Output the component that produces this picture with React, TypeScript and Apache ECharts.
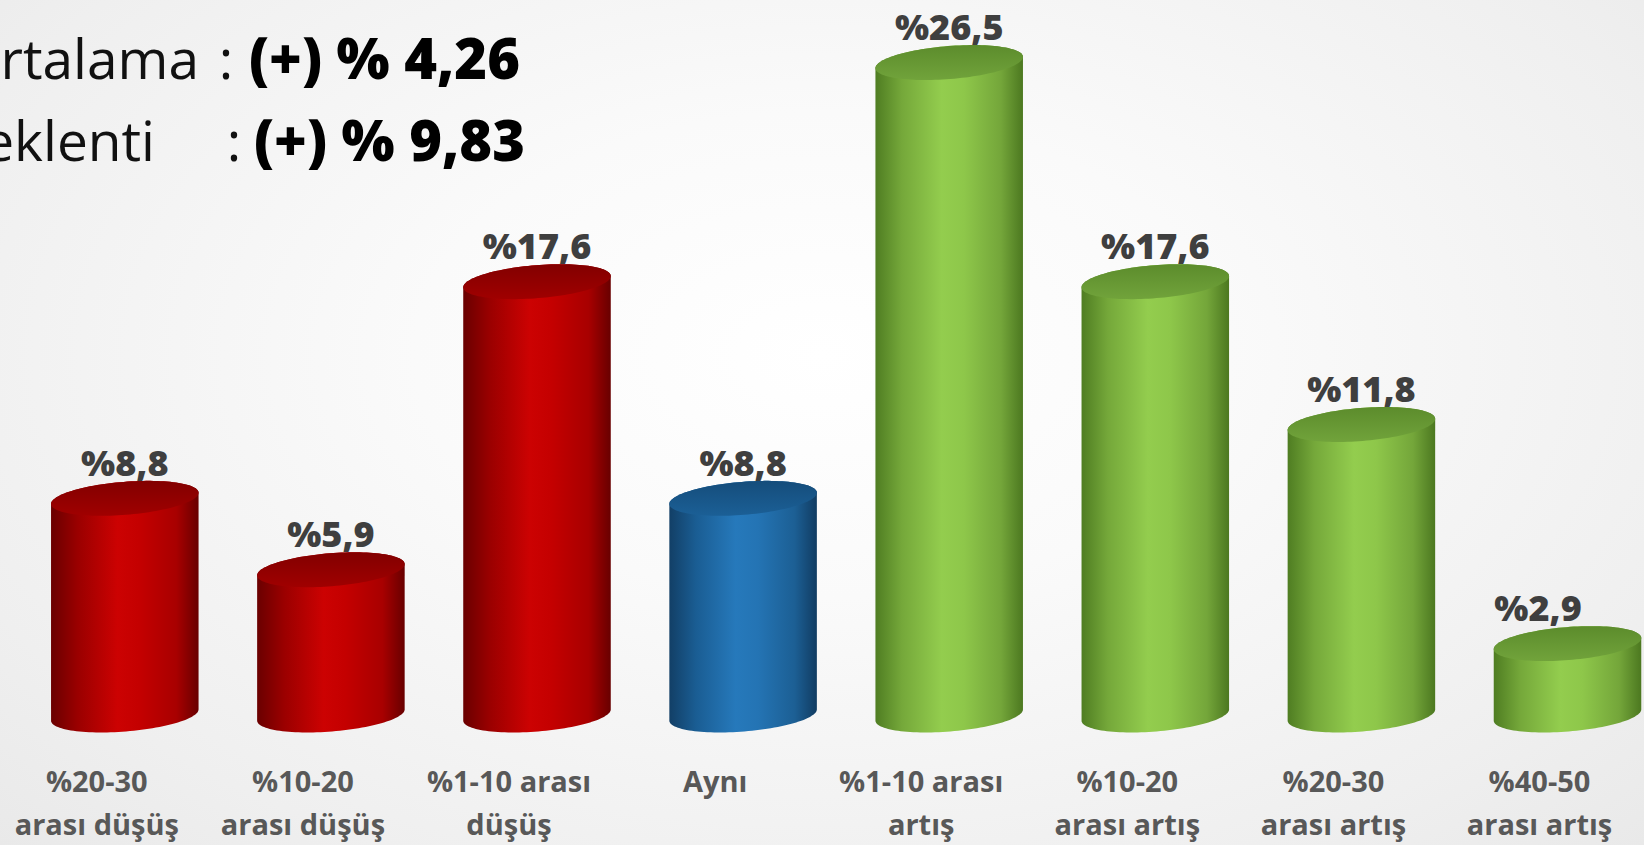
import React, { useEffect, useRef } from 'react';
import * as echarts from 'echarts';

const categories = [
  '%20-30\narası düşüş',
  '%10-20\narası düşüş',
  '%1-10 arası\ndüşüş',
  'Aynı',
  '%1-10 arası\nartış',
  '%10-20\narası artış',
  '%20-30\narası artış',
  '%40-50\narası artış',
];
const values = [8.8, 5.9, 17.6, 8.8, 26.5, 17.6, 11.8, 2.9];
const trends = ['down', 'down', 'down', 'same', 'up', 'up', 'up', 'up'];
const summaryLabels = ['Ortalama', 'Beklenti'];
const summaryValues = ['(+) % 4,26', '(+) % 9,83'];

const FONT = '"Open Sans", "Noto Sans", sans-serif';

const palettes: Record<string, { body: [number, string][]; top: [string, string] }> = {
  down: {
    body: [[0, '#6a0000'], [0.18, '#9a0000'], [0.45, '#cc0202'], [0.6, '#c40000'], [0.85, '#a80000'], [1, '#680000']],
    top: ['#820000', '#a00000'],
  },
  same: {
    body: [[0, '#123f66'], [0.18, '#1a5d93'], [0.45, '#2679bb'], [0.6, '#2474b4'], [0.85, '#1c5f94'], [1, '#113c62']],
    top: ['#154d7b', '#1b5f96'],
  },
  up: {
    body: [[0, '#4f7d22'], [0.18, '#75a83a'], [0.45, '#93cd4e'], [0.6, '#8ec74a'], [0.85, '#74a63a'], [1, '#4c7820']],
    top: ['#5c8c2c', '#71a33b'],
  },
};

function App() {
  const ref = useRef<HTMLDivElement>(null);

  useEffect(() => {
    document.body.style.margin = '0';
    document.body.style.overflow = 'hidden';
    if (!ref.current) return;
    const chart = echarts.init(ref.current, null, { renderer: 'svg' });

    const a = 74;
    const b = 16.5;
    const phi = -0.08;
    const pt = (cx: number, cy: number, t: number) => [
      cx + a * Math.cos(t) * Math.cos(phi) - b * Math.sin(t) * Math.sin(phi),
      cy + a * Math.cos(t) * Math.sin(phi) + b * Math.sin(t) * Math.cos(phi),
    ];

    const renderItem = (params: any, api: any) => {
      const idx = api.value(0);
      const v = api.value(1);
      const top = api.coord([idx, v]);
      const base = api.coord([idx, 0]);
      const cx = top[0];
      const N = 60;
      const bodyPts: number[][] = [];
      for (let k = 0; k <= N; k++) bodyPts.push(pt(cx, top[1], Math.PI + (Math.PI * k) / N));
      for (let k = 0; k <= N; k++) bodyPts.push(pt(cx, base[1], (Math.PI * k) / N));
      const topPts: number[][] = [];
      for (let k = 0; k < 2 * N; k++) topPts.push(pt(cx, top[1], (2 * Math.PI * k) / (2 * N)));
      const pal = palettes[trends[idx]];
      const labelX = Math.min(cx, api.getWidth() - 106);
      return {
        type: 'group',
        children: [
          {
            type: 'polygon',
            shape: { points: bodyPts },
            style: {
              fill: new echarts.graphic.LinearGradient(0, 0, 1, 0, pal.body.map(([o, c]) => ({ offset: o, color: c }))),
            },
          },
          {
            type: 'polygon',
            shape: { points: topPts },
            style: {
              fill: new echarts.graphic.LinearGradient(0, 0, 0, 1, [
                { offset: 0, color: pal.top[0] },
                { offset: 1, color: pal.top[1] },
              ]),
            },
          },
          {
            type: 'text',
            x: labelX,
            y: top[1] - 18,
            style: {
              text: '%' + String(v).replace('.', ','),
              font: `800 36px ${FONT}`,
              fill: '#3f3f3f',
              align: 'center',
              verticalAlign: 'bottom',
            },
          },
        ],
      };
    };

    const graphics: any[] = [];
    const rows = [
      { labelRight: 199, colonX: 226, valueX: 249, mid: 57 },
      { labelRight: 155, colonX: 234, valueX: 254, mid: 139 },
    ];
    summaryLabels.forEach((lab, i) => {
      const r = rows[i];
      graphics.push(
        {
          type: 'text',
          x: r.labelRight,
          y: r.mid,
          style: { text: lab, font: `400 55px ${FONT}`, fill: '#111', align: 'right', verticalAlign: 'middle' },
        },
        {
          type: 'text',
          x: r.colonX,
          y: r.mid,
          style: { text: ':', font: `400 55px ${FONT}`, fill: '#111', align: 'center', verticalAlign: 'middle' },
        },
        {
          type: 'text',
          x: r.valueX,
          y: r.mid,
          style: { text: summaryValues[i], font: `800 56px ${FONT}`, fill: '#000', align: 'left', verticalAlign: 'middle' },
        }
      );
    });

    chart.setOption({
      animation: false,
      grid: { left: 21.75, width: 1648.8, top: 1, height: 714, containLabel: false, outerBoundsMode: 'none' },
      xAxis: {
        type: 'category',
        data: categories,
        axisLine: { show: false },
        axisTick: { show: false },
        axisLabel: {
          interval: 0,
          fontSize: 29,
          lineHeight: 43,
          fontWeight: 'bold',
          fontFamily: FONT,
          color: '#585858',
          margin: 44,
          padding: [0, 56, 0, 0],
        },
      },
      yAxis: { type: 'value', min: 0, max: 29, show: false, splitLine: { show: false } },
      graphic: graphics,
      series: [
        {
          type: 'custom',
          renderItem,
          data: values.map((v, i) => [i, v]),
          encode: { x: 0, y: 1 },
          clip: false,
        },
      ],
    });

    return () => chart.dispose();
  }, []);

  return (
    <div
      ref={ref}
      style={{
        width: 1644,
        height: 845,
        background: 'radial-gradient(ellipse at 50% 42%, #ffffff 0%, #fafafa 35%, #efefef 80%, #e9e9e9 100%)',
      }}
    />
  );
}

export default App;
